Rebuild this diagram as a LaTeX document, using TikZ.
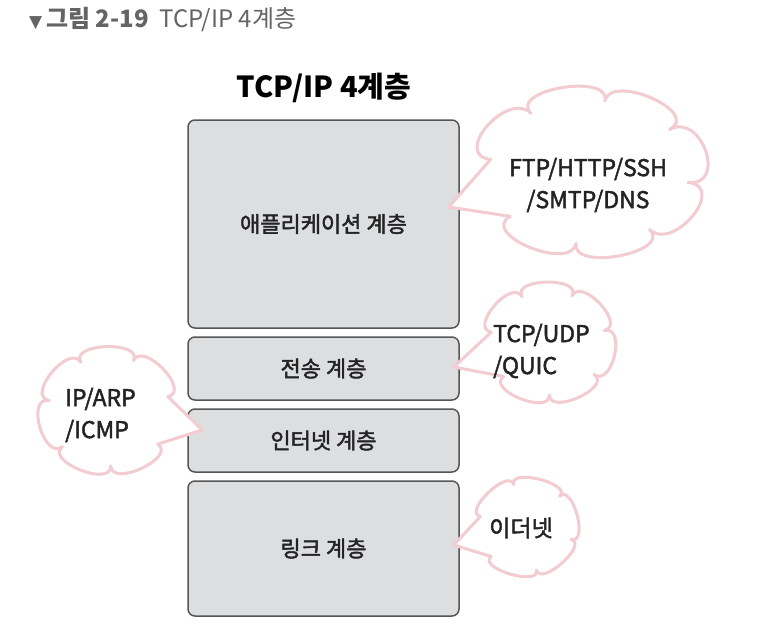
\documentclass[tikz,border=0pt]{standalone}
\usepackage{fontspec}
\setmainfont{Noto Sans CJK KR}
\newfontfamily\hand{Noto Sans CJK KR}[FakeBold=2]
\newfontfamily\symfont{DejaVu Sans}
\usetikzlibrary{calc}
\definecolor{boxfill}{RGB}{221,222,224}
\definecolor{boxline}{RGB}{85,85,85}
\definecolor{cloudpink}{RGB}{242,204,209}
\definecolor{txt}{RGB}{35,35,35}
\definecolor{capgray}{RGB}{100,100,100}
\newcommand\bubf{1.4}
% #1 cx, #2 cy, #3 a, #4 b, #5 tail angle, #6 half width, #7 bumps, #8 tip
\newcommand\mybubble[8]{%
  \pgfmathsetmacro\bubs{#5+#6}%
  \pgfmathsetmacro\bubst{(360-2*#6)/#7}%
  \draw[bubble] ({#1+#3*cos(\bubs)},{#2+#4*sin(\bubs)})
    \foreach \i [evaluate=\i as \ta using \bubs+(\i-1)*\bubst,
                 evaluate=\i as \tb using \bubs+\i*\bubst] in {1,...,#7}
    { .. controls ({#1+\bubf*#3*cos(\ta)},{#2+\bubf*#4*sin(\ta)})
         and ({#1+\bubf*#3*cos(\tb)},{#2+\bubf*#4*sin(\tb)})
         .. ({#1+#3*cos(\tb)},{#2+#4*sin(\tb)}) }
    -- #8 -- cycle;
}
\begin{document}
\begin{tikzpicture}[x=1pt,y=-1pt,
  layer/.style={draw=boxline, fill=boxfill, line width=1.5pt, rounded corners=7pt,
    minimum width=271pt, inner sep=0pt, font=\hand\fontsize{22}{26}\selectfont, text=txt},
  bubble/.style={draw=cloudpink, fill=white, line width=3pt, line join=round},
  lbl/.style={font=\hand\fontsize{23}{32}\selectfont, text=txt, inner sep=0pt},
]
\useasboundingbox[fill=white] (0,0) rectangle (772,632);

% caption
\node[anchor=west, text=capgray, inner sep=0pt] (cap) at (29,20)
  {{\symfont\fontsize{17}{18}\selectfont ▼}\fontsize{24}{26}\selectfont\,\textbf{그림 2-19}\ \ TCP/IP 4계층};

% title
\node[font=\fontsize{29}{32}\selectfont\bfseries, text=black, inner sep=0pt] (title) at (324,88) {TCP/IP 4계층};

% layers
\node[layer, minimum height=208pt] (app) at (323.5,224) {애플리케이션 계층};
\node[layer, minimum height=63pt] (trans) at (323.5,368.5) {전송 계층};
\node[layer, minimum height=63pt] (inet) at (323.5,440.5) {인터넷 계층};
\node[layer, minimum height=135pt] (link) at (323.5,548.5) {링크 계층};

% tail tips
\coordinate (t1) at ($(app.east)+(-11,-17)$);
\coordinate (t2) at ($(trans.east)+(-6,-1.5)$);
\coordinate (t3) at ($(inet.west)+(15,-10.5)$);
\coordinate (t4) at ($(link.east)+(-6,-3.5)$);

% bubbles
\mybubble{589}{172}{100}{72}{166}{24}{7}{(t1)}
\mybubble{548}{343}{58}{52}{166}{26}{6}{(t2)}
\mybubble{109}{411}{61}{55}{11}{26}{6}{(t3)}
\mybubble{526}{527}{47}{44}{166}{28}{5}{(t4)}

% bubble labels
\node[lbl, align=center] (c1) at (588,185) {FTP/HTTP/SSH\\/SMTP/DNS};
\node[lbl, align=left, anchor=west] (c2) at (493,351) {TCP/UDP\\/QUIC};
\node[lbl, align=left, anchor=west] (c3) at (65,415) {IP/ARP\\/ICMP};
\node[lbl] (c4) at (521,528) {이더넷};
\end{tikzpicture}
\end{document}
